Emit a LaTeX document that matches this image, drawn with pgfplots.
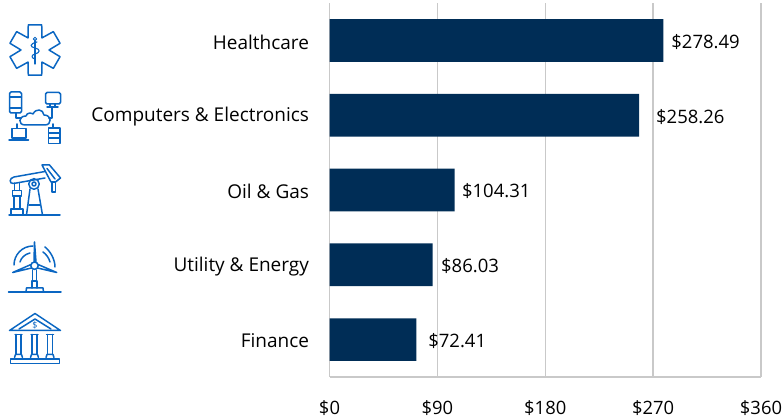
\documentclass[border=0pt]{standalone}
\usepackage{pgfplots}
\pgfplotsset{compat=1.18}
\usepackage{fontspec}
\setmainfont{Open Sans}
\definecolor{barnavy}{HTML}{002D56}
\definecolor{gridgray}{HTML}{C9C9C9}
\definecolor{iconblue}{HTML}{0A66C2}
\begin{document}
\begin{tikzpicture}[x=1pt,y=1pt]
\path[use as bounding box] (0,0) rectangle (784,419);
\begin{axis}[
  at={(329.5pt,42pt)}, anchor=south west,
  scale only axis, width=431.5pt, height=374pt,
  xmin=0, xmax=360, ymin=-0.5, ymax=4.5,
  y dir=reverse,
  xtick={0,90,180,270,360},
  xticklabels={\$0,\$90,\$180,\$270,\$360},
  ytick={0,1,2,3,4},
  yticklabels={Healthcare,Computers \& Electronics,Oil \& Gas,Utility \& Energy,Finance},
  xmajorgrids, grid style={gridgray,line width=1.3pt},
  axis line style={gridgray,line width=1.3pt},
  axis x line*=bottom, axis y line*=left,
  tick style={draw=none},
  major tick length=0pt,
  xticklabel style={font=\fontsize{18.4}{20}\selectfont,yshift=-20pt},
  yticklabel style={font=\fontsize{19}{20}\selectfont,xshift=-17pt,yshift=-1.5pt},
  /pgf/number format/assume math mode=true,
  xbar, bar width=42.7pt, bar shift=0pt,
  clip=false,
  nodes near coords, point meta=explicit symbolic,
  nodes near coords style={font=\fontsize{18.5}{20}\selectfont,text=black,anchor=west,xshift=3pt,yshift=-1.5pt},
]
\addplot[fill=barnavy,draw=none] coordinates {
  (278.49,0) [\hspace{1.5pt}\$278.49]
  (258.26,1) [\hspace{10.5pt}\$258.26]
  (104.31,2) [\hspace{1pt}\$104.31]
  (86.03,3) [\hspace{2pt}\$86.03]
  (72.41,4) [\hspace{5.5pt}\$72.41]
};
\end{axis}
\begin{scope}[shift={(0,419)},y=-1pt,x=1pt,draw=iconblue,line width=1.5pt,line join=round,line cap=round]
% star of life
\begin{scope}[shift={(35,50)}]
\draw (75:25.96) -- (105:25.96) -- (120:14) -- (135:25.96)-- (165:25.96) -- (180:14) -- (195:25.96) -- (225:25.96) -- (240:14) -- (255:25.96) -- (285:25.96) -- (300:14) -- (315:25.96) -- (345:25.96) -- (0:14) -- (15:25.96) -- (45:25.96) -- (60:14) -- cycle;
\draw[line width=1.1pt] (0,-9) -- (0,14);
\draw[line width=1pt] (0,-11) circle (1.7);
\draw[line width=1.1pt] (2,-8) .. controls (-6,-6) and (-5,-3) .. (0,-2) .. controls (6,-1) and (5,3) .. (0,4) .. controls (-4,5) and (-4,8) .. (0,9);
\end{scope}
% computers
\draw[rounded corners=1.5pt] (9.5,92) rectangle (21.5,113);
\draw[line width=1.1pt] (9.5,108) -- (21.5,108) (9.5,97) -- (21.5,97);
\draw[rounded corners=1.5pt] (45.5,92.5) rectangle (60.5,104);
\draw (50,104) -- (50,107) (55,104)--(55,107) (47,107)--(58,107);
\draw (25,125) .. controls (18,125) and (18,116) .. (26,116) .. controls (27,112) and (32,113) .. (33,114) .. controls (36,108) and (43,109) .. (44,115) .. controls (52,115) and (52,125) .. (45,125) -- cycle;
\draw (16,113) -- (16,118) -- (21,118);
\draw (52,107) -- (52,118) -- (49,118);
\draw (17,124) -- (17,128);
\draw (12,128.5) rectangle (26,138);
\draw (9,140) -- (28.5,140);
\draw (53,124) -- (53,128);
\draw (48.5,128) rectangle (60,143.5);
\draw[line width=1.1pt] (48.5,133) -- (60,133) (48.5,138) -- (60,138);
% oil pump
\draw (9,215) -- (60,215);
\draw (11,209) rectangle (23,215);
\draw (14,196) -- (14,209) (20,196) -- (20,209);
\draw (12.5,190.5) rectangle (21.5,196);
\draw (14.5,183) -- (14.5,190.5) (19.5,183) -- (19.5,190.5);
\draw (45,171.5) -- (14,177) .. controls (9,178) and (9,184) .. (13.5,183.5) -- (45,178);
\draw (34,184) circle (5.3);
\draw (34,184) circle (2);
\draw (30,189) -- (26.5,215) (38,189) -- (42.5,215);
\draw (29,205) -- (40,205);
\draw (42,165) -- (49.5,165) -- (60.5,178) -- (55.5,182) -- (51,182) -- cycle;
\draw (47,168.5) -- (55,179);
\draw (52,182) rectangle (55.5,192);
% turbine
\draw (8.5,292) -- (61,292);
\draw (26,292) -- (26.5,288) -- (43,288) -- (43.5,292);
\draw (32,288) -- (32,281) -- (37,281) -- (37,288);
\draw (32.5,281) -- (32.5,270) (36.5,281) -- (36.5,270);
\draw (34.5,265.7) circle (3.7);
\draw (34,262) -- (34.5,242) -- (36,262);
\draw (31,264.5) -- (12.7,272.5) -- (31.5,268);
\draw (38,264.5) -- (56.7,272.5) -- (37.5,268);
\draw (33,246) .. controls (22,246) and (14,255) .. (14,265);
\draw (45,247) .. controls (50,251) and (55,259) .. (55,267);
\draw (30,253) .. controls (25,254) and (21,258) .. (20,262);
\draw (43,252) .. controls (46,254) and (49,258) .. (50,262);
% bank
\draw (35,313.5) -- (9.5,330.5) -- (60.5,330.5) -- cycle;
\draw (35,319) -- (19,329) (35,319) -- (51,329);
\node[text=iconblue,font=\fontsize{9}{9}\selectfont,inner sep=0pt] at (35,325) {\$};
\foreach \c in {18.5,34.5,50}{
  \draw (\c-3.5,334.5) -- (\c+3.5,334.5);
  \draw (\c-2.3,334.5) -- (\c-2.3,354) (\c+2.3,334.5) -- (\c+2.3,354);
  \draw (\c-4,357.5) -- (\c-3,354.5) -- (\c+3,354.5) -- (\c+4,357.5);
}
\draw (10.5,359) rectangle (59.5,363.5);
\end{scope}
\end{tikzpicture}
\end{document}
